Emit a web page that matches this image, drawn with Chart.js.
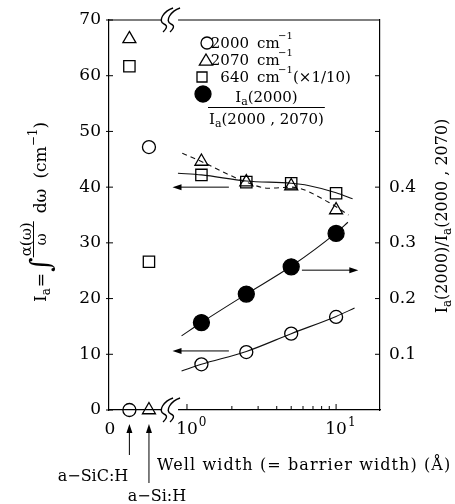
<!DOCTYPE html>
<html>
<head>
<meta charset="utf-8">
<script src="https://cdn.jsdelivr.net/npm/chart.js@4.4.1/dist/chart.umd.min.js"></script>
<style>
  html, body { margin: 0; padding: 0; background: #fff; }
  #wrap { width: 455px; height: 504px; }
</style>
</head>
<body>
<div id="wrap"><canvas id="chart" width="455" height="504"></canvas></div>
<script>
// Well widths of the superlattices
const widths = [1.25, 2.5, 5, 10];

// Integrated absorption I_a (cm^-1); the 640 band is scaled by 1/10
const ia2000 = [8.2, 10.4, 13.7, 16.7];
const ia2070 = [44.6, 40.9, 40.2, 35.9];
const ia640 = [42.2, 40.9, 40.7, 38.9];
// I_a(2000) / I_a(2000,2070), right axis
const ratio = [0.157, 0.208, 0.257, 0.317];

// Bulk films, plotted left of the axis break
const refNames = ['a−SiC:H', 'a−Si:H'];
const ref2000 = [0, 47.2];
const ref2070 = [66.6, 0];
const ref640 = [61.7, 26.6];

// Guide curves drawn through the points
const guide2000X = [0.92, 1.25, 2.5, 5, 10, 13.3];
const guide2000Y = [7.0, 8.2, 10.5, 13.7, 16.8, 18.3];
const guideRatioX = [0.92, 1.25, 2.5, 5, 10, 12];
const guideRatioY = [0.133, 0.157, 0.208, 0.258, 0.318, 0.337];
const guide640X = [0.87, 1.25, 2.5, 5, 6.5, 10, 12.9];
const guide640Y = [42.5, 42.2, 41.1, 40.7, 40.3, 39.0, 37.9];
const guide2070X = [0.93, 1.25, 1.85, 2.5, 3.5, 5, 8.9, 12.1];
const guide2070Y = [46.1, 44.6, 42.4, 40.9, 39.8, 40.0, 37.3, 35.0];

// Arrows telling which axis a curve belongs to
const leftArrows = [{ from: 1.91, to: 0.80, y: 40.0 }, { from: 1.91, to: 0.80, y: 10.6 }];
const rightArrows = [{ from: 5.9, to: 14.1, y: 0.251 }];

// axis layout
const XMIN = 0.333, XMAX = 19.7;
const REF_POS = [0.411, 0.556];   // where the bulk film columns sit
const BREAK_AT = 0.77;
const FONT = '"DejaVu Serif", serif';

const pts = (xs, ys) => xs.map((x, i) => ({ x: x, y: ys[i] }));

const lineSet = (xs, ys, axis, dash) => ({
  data: pts(xs, ys), yAxisID: axis, showLine: true, pointRadius: 0,
  borderColor: '#111', borderWidth: 1.1, borderDash: dash || [],
  cubicInterpolationMode: 'monotone', order: 2, clip: false
});

const markSet = (data, style, r, axis, filled) => ({
  data: data, yAxisID: axis, showLine: false, pointStyle: style, pointRadius: r,
  backgroundColor: filled ? '#000' : 'rgba(0,0,0,0)', borderColor: '#000',
  borderWidth: 1.3, order: 1, clip: false
});

function pen(ctx, size) { ctx.font = size + 'px ' + FONT; }

// draw a run of text pieces; returns the end x
function rich(ctx, parts, x, y, measureOnly) {
  for (const p of parts) {
    x += p.pre || 0;
    pen(ctx, p.size || 16);
    if (!measureOnly) ctx.fillText(p.t, x, y + (p.dy || 0));
    x += ctx.measureText(p.t).width;
  }
  return x;
}

function arrow(ctx, x1, y1, x2, y2) {
  const a = Math.atan2(y2 - y1, x2 - x1);
  ctx.beginPath();
  ctx.moveTo(x1, y1);
  ctx.lineTo(x2 - 7 * Math.cos(a), y2 - 7 * Math.sin(a));
  ctx.stroke();
  ctx.beginPath();
  ctx.moveTo(x2, y2);
  ctx.lineTo(x2 - 9 * Math.cos(a) + 3 * Math.sin(a), y2 - 9 * Math.sin(a) - 3 * Math.cos(a));
  ctx.lineTo(x2 - 9 * Math.cos(a) - 3 * Math.sin(a), y2 - 9 * Math.sin(a) + 3 * Math.cos(a));
  ctx.closePath();
  ctx.fill();
}

function marker(ctx, style, x, y, r, filled) {
  ctx.beginPath();
  if (style === 'circle') ctx.arc(x, y, r, 0, Math.PI * 2);
  if (style === 'rect') ctx.rect(x - r, y - r, 2 * r, 2 * r);
  if (style === 'triangle') {
    ctx.moveTo(x, y - r);
    ctx.lineTo(x + r * 0.95, y + r * 0.6);
    ctx.lineTo(x - r * 0.95, y + r * 0.6);
    ctx.closePath();
  }
  if (filled) ctx.fill();
  ctx.stroke();
}

// the "((" gap mark cut into the horizontal frame lines
function axisBreak(ctx, x, y) {
  ctx.save();
  ctx.fillStyle = '#fff';
  ctx.fillRect(x - 8, y - 3, 16, 6);
  ctx.strokeStyle = '#000';
  ctx.lineWidth = 1.4;
  for (const dx of [-4, 3]) {
    ctx.beginPath();
    ctx.moveTo(x + dx + 7, y - 12);
    ctx.bezierCurveTo(x + dx - 2, y - 9, x + dx - 9, y + 1, x + dx - 2, y + 4);
    ctx.bezierCurveTo(x + dx + 3, y + 6, x + dx - 1, y + 10, x + dx - 3, y + 12);
    ctx.stroke();
  }
  ctx.restore();
}

const decor = {
  id: 'decor',
  afterDraw(chart) {
    const ctx = chart.ctx;
    const area = chart.chartArea;
    const sx = chart.scales.x, sy = chart.scales.y, sr = chart.scales.y2;
    ctx.save();
    ctx.strokeStyle = '#000';
    ctx.fillStyle = '#000';
    ctx.lineWidth = 1.2;

    // top frame
    ctx.beginPath();
    ctx.moveTo(area.left, area.top);
    ctx.lineTo(area.right, area.top);
    ctx.stroke();

    // tick marks
    ctx.lineWidth = 1;
    ctx.beginPath();
    for (let v = 1; v <= 10; v++) {
      const px = sx.getPixelForValue(v);
      const len = (v === 1 || v === 10) ? 6 : 4;
      ctx.moveTo(px, area.bottom);
      ctx.lineTo(px, area.bottom - len);
    }
    for (let v = 0; v <= 70; v += 10) {
      const py = sy.getPixelForValue(v);
      ctx.moveTo(area.left - 3, py);
      ctx.lineTo(area.left + 4, py);
    }
    for (let v = 1; v <= 6; v++) {
      const py = sr.getPixelForValue(v / 10);
      ctx.moveTo(area.right - 5, py);
      ctx.lineTo(area.right, py);
    }
    ctx.stroke();

    // axis breaks
    const bx = sx.getPixelForValue(BREAK_AT);
    axisBreak(ctx, bx, area.top);
    axisBreak(ctx, bx, area.bottom);

    // x tick labels
    ctx.textAlign = 'center';
    ctx.textBaseline = 'alphabetic';
    pen(ctx, 17);
    ctx.fillText('0', area.left + 1, area.bottom + 24);
    for (const [v, e] of [[1, '0'], [10, '1']]) {
      const px = sx.getPixelForValue(v);
      pen(ctx, 17);
      ctx.textAlign = 'center';
      ctx.fillText('10', px, area.bottom + 24);
      const w = ctx.measureText('10').width;
      pen(ctx, 12);
      ctx.textAlign = 'left';
      ctx.fillText(e, px + w / 2 + 1, area.bottom + 16);
    }

    // axis-pointer arrows
    ctx.lineWidth = 1;
    for (const a of leftArrows) {
      const py = sy.getPixelForValue(a.y);
      arrow(ctx, sx.getPixelForValue(a.from), py, sx.getPixelForValue(a.to), py);
    }
    for (const a of rightArrows) {
      const py = sr.getPixelForValue(a.y);
      arrow(ctx, sx.getPixelForValue(a.from), py, sx.getPixelForValue(a.to), py);
    }

    // bulk film labels with arrows up to the axis
    const labelY = [481, 501];
    const tailY = [455, 483];
    const labelX = [93, 157];
    refNames.forEach((name, i) => {
      const px = sx.getPixelForValue(REF_POS[i]);
      arrow(ctx, px, tailY[i], px, area.bottom + 14);
      pen(ctx, 16);
      ctx.textAlign = 'center';
      ctx.fillText(name, labelX[i], labelY[i]);
    });

    // x axis title
    pen(ctx, 16);
    ctx.textAlign = 'left';
    ctx.letterSpacing = '1.1px';
    ctx.fillText('Well width (= barrier width) (Å)', 157, 470);
    ctx.letterSpacing = '0px';

    // legend
    ctx.lineWidth = 1.3;
    marker(ctx, 'circle', 207, 43, 6, false);
    marker(ctx, 'triangle', 206, 61, 7, false);
    marker(ctx, 'rect', 202, 77, 5, false);
    marker(ctx, 'circle', 203, 94, 8, true);
    const rows = [['2000', 48], ['2070', 65], ['640', 82]];
    for (const [txt, base] of rows) {
      pen(ctx, 15);
      ctx.textAlign = 'right';
      ctx.fillText(txt, 249, base);
      ctx.textAlign = 'left';
      ctx.fillText('cm', 257, base);
      pen(ctx, 10);
      ctx.fillText('−1', 278, base - 9);
    }
    pen(ctx, 15);
    ctx.fillText('(×1/10)', 293, 82);
    // fraction I_a(2000) / I_a(2000,2070)
    const num = [{ t: 'I', size: 15 }, { t: 'a', size: 11, dy: 3 }, { t: '(2000)', size: 15 }];
    const den = [{ t: 'I', size: 15 }, { t: 'a', size: 11, dy: 3 }, { t: '(2000 , 2070)', size: 15 }];
    const wn = rich(ctx, num, 0, 0, true);
    const wd = rich(ctx, den, 0, 0, true);
    rich(ctx, num, 209 + (wd - wn) / 2, 102);
    rich(ctx, den, 209, 124);
    ctx.lineWidth = 1;
    ctx.beginPath();
    ctx.moveTo(208, 107.5);
    ctx.lineTo(210 + wd, 107.5);
    ctx.stroke();

    // right axis title
    const rt = [{ t: 'I', size: 16 }, { t: 'a', size: 12, dy: 4 }, { t: '(2000)/', size: 16 },
                { t: 'I', size: 16 }, { t: 'a', size: 12, dy: 4 }, { t: '(2000 , 2070)', size: 16 }];
    ctx.save();
    ctx.translate(447, 216);
    ctx.rotate(-Math.PI / 2);
    const wr = rich(ctx, rt, 0, 0, true);
    rich(ctx, rt, -wr / 2, 0);
    ctx.restore();

    // left axis title: I_a = ∫ α(ω)/ω dω (cm^-1)
    ctx.save();
    ctx.translate(46, 212);
    ctx.rotate(-Math.PI / 2);
    const head = [{ t: 'I', size: 17 }, { t: 'a', size: 12, dy: 4 }, { t: '=', size: 17, pre: 1 },
                  { t: '∫', size: 28, dy: 4, pre: 1 }];
    pen(ctx, 15);
    const fracW = ctx.measureText('α(ω)').width;
    const tail = [{ t: 'dω', size: 17, pre: 8 }, { t: '(cm', size: 17, pre: 10 },
                  { t: '−1', size: 12, dy: -9 }, { t: ')', size: 17 }];
    const total = rich(ctx, head, 0, 0, true) + fracW + 2 + rich(ctx, tail, 0, 0, true);
    let x0 = -total / 2;
    x0 = rich(ctx, head, x0, 0);
    pen(ctx, 15);
    ctx.textAlign = 'left';
    ctx.fillText('α(ω)', x0 + 1, -15);
    ctx.textAlign = 'center';
    ctx.fillText('ω', x0 + 1 + fracW / 2, 0);
    ctx.lineWidth = 1;
    ctx.beginPath();
    ctx.moveTo(x0, -12.5);
    ctx.lineTo(x0 + fracW + 2, -12.5);
    ctx.stroke();
    ctx.textAlign = 'left';
    rich(ctx, tail, x0 + fracW + 2, 0);
    ctx.restore();

    ctx.restore();
  }
};

new Chart(document.getElementById('chart'), {
  type: 'scatter',
  data: {
    datasets: [
      lineSet(guide2000X, guide2000Y, 'y'),
      lineSet(guideRatioX, guideRatioY, 'y2'),
      lineSet(guide640X, guide640Y, 'y'),
      lineSet(guide2070X, guide2070Y, 'y', [5, 4]),
      markSet(pts(widths, ia2000).concat(pts(REF_POS, ref2000)), 'circle', 6.5, 'y', false),
      markSet(pts(widths, ia2070).concat(pts(REF_POS, ref2070)), 'triangle', 7.5, 'y', false),
      markSet(pts(widths, ia640).concat(pts(REF_POS, ref640)), 'rect', 8, 'y', false),
      markSet(pts(widths, ratio), 'circle', 8, 'y2', true)
    ]
  },
  options: {
    responsive: false,
    animation: false,
    devicePixelRatio: 1,
    layout: { padding: { top: 20, left: 0, right: 0, bottom: 0 } },
    plugins: { legend: { display: false }, tooltip: { enabled: false } },
    scales: {
      x: {
        type: 'logarithmic', min: XMIN, max: XMAX, position: 'bottom',
        grid: { display: false, drawTicks: false },
        border: { display: true, color: '#000', width: 1.2 },
        ticks: { display: false },
        afterBuildTicks: s => { s.ticks = [1, 2, 3, 4, 5, 6, 7, 8, 9, 10].map(v => ({ value: v })); },
        afterFit: s => { s.height = 94; }
      },
      y: {
        type: 'linear', position: 'left', min: 0, max: 70,
        grid: { display: false, drawTicks: false },
        border: { display: true, color: '#000', width: 1.2 },
        ticks: { stepSize: 10, padding: 8, color: '#000', font: { family: FONT, size: 17 } },
        afterFit: s => { s.width = 109; }
      },
      y2: {
        type: 'linear', position: 'right', min: 0, max: 0.7,
        grid: { display: false, drawTicks: false },
        border: { display: true, color: '#000', width: 1.2 },
        ticks: {
          stepSize: 0.1, padding: 9, color: '#000', font: { family: FONT, size: 17 },
          callback: v => (v > 0.05 && v < 0.45) ? v.toFixed(1) : ''
        },
        afterFit: s => { s.width = 75; }
      }
    }
  },
  plugins: [decor]
});
</script>
</body>
</html>
